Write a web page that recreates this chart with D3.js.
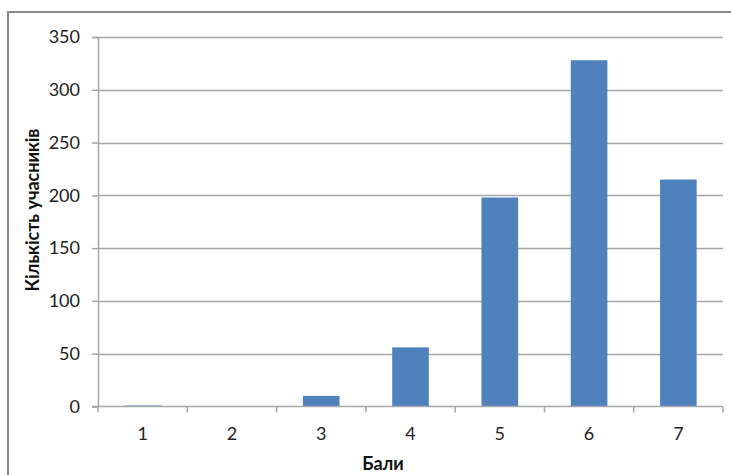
<!DOCTYPE html>
<html><head><meta charset="utf-8">
<script src="https://cdn.jsdelivr.net/npm/d3@7"></script>
<style>body{margin:0;background:#fff}svg{display:block}text{font-family:Lato,"Open Sans",sans-serif}</style>
</head><body>
<script>
const categories = ["1","2","3","4","5","6","7"];
const values = [1, 0, 10, 56, 198, 328, 215];
const yTicks = [0,50,100,150,200,250,300,350];
const xTitle = "Бали";
const yTitle = "Кількість учасників";

const W = 731, H = 475;
const svg = d3.select("body").append("svg").attr("width", W).attr("height", H);
const m = {left: 98, right: 8, top: 37, bottom: 68.5};
const x = d3.scaleBand().domain(categories).range([m.left, W - m.right]).paddingInner(0.59).paddingOuter(0.295);
const y = d3.scaleLinear().domain([0, 350]).range([H - m.bottom, m.top]);

// outer border (top + left visible)
svg.append("path").attr("d", `M8,${H}V12H${W}`).attr("fill","none").attr("stroke","#8a8a8a").attr("stroke-width",2);

// gridlines
svg.append("g").selectAll("line").data(yTicks.slice(1)).join("line")
  .attr("x1", m.left).attr("x2", W - m.right)
  .attr("y1", d => Math.round(y(d)) + 0.5).attr("y2", d => Math.round(y(d)) + 0.5)
  .attr("stroke", "#a6a6a6").attr("stroke-width", 1.5);

// y axis
const yAxis = svg.append("g").attr("transform", `translate(${m.left},0)`)
  .call(d3.axisLeft(y).tickValues(yTicks).tickSize(6).tickPadding(12));
yAxis.select(".domain").attr("stroke", "#a6a6a6").attr("stroke-width", 1.5);
yAxis.selectAll(".tick line").attr("stroke", "#a6a6a6").attr("stroke-width", 1.5);
yAxis.selectAll(".tick text").attr("font-size", 18).attr("fill", "#222").attr("font-family", "Lato");

// bars
svg.append("g").selectAll("rect").data(values).join("rect")
  .attr("x", (d, i) => x(categories[i]))
  .attr("width", x.bandwidth())
  .attr("y", d => y(d))
  .attr("height", d => y(0) - y(d))
  .attr("fill", "#4f81bd");

// x axis
const xAxis = svg.append("g").attr("transform", `translate(0,${y(0)})`)
  .call(d3.axisBottom(x).tickSize(0).tickPadding(21));
xAxis.select(".domain").remove();
xAxis.selectAll(".tick text").attr("font-size", 18).attr("fill", "#222").attr("font-family", "Lato");
svg.append("line").attr("x1", m.left - 6).attr("x2", W - m.right)
  .attr("y1", y(0)).attr("y2", y(0)).attr("stroke", "#a6a6a6").attr("stroke-width", 1.5);
// boundary ticks between categories
const step = x.step();
svg.append("g").selectAll("line").data(d3.range(categories.length + 1)).join("line")
  .attr("x1", i => m.left + i * step).attr("x2", i => m.left + i * step)
  .attr("y1", y(0)).attr("y2", y(0) + 6)
  .attr("stroke", "#a6a6a6").attr("stroke-width", 1.5);

// titles
svg.append("text").attr("x", 383).attr("y", 470).attr("text-anchor", "middle")
  .attr("font-size", 18).attr("font-weight", "bold").attr("fill", "#111").text(xTitle);
svg.append("text").attr("transform", "translate(39,210) rotate(-90)").attr("text-anchor", "middle")
  .attr("font-size", 18).attr("font-weight", "bold").attr("fill", "#111").text(yTitle);
</script>
</body></html>
